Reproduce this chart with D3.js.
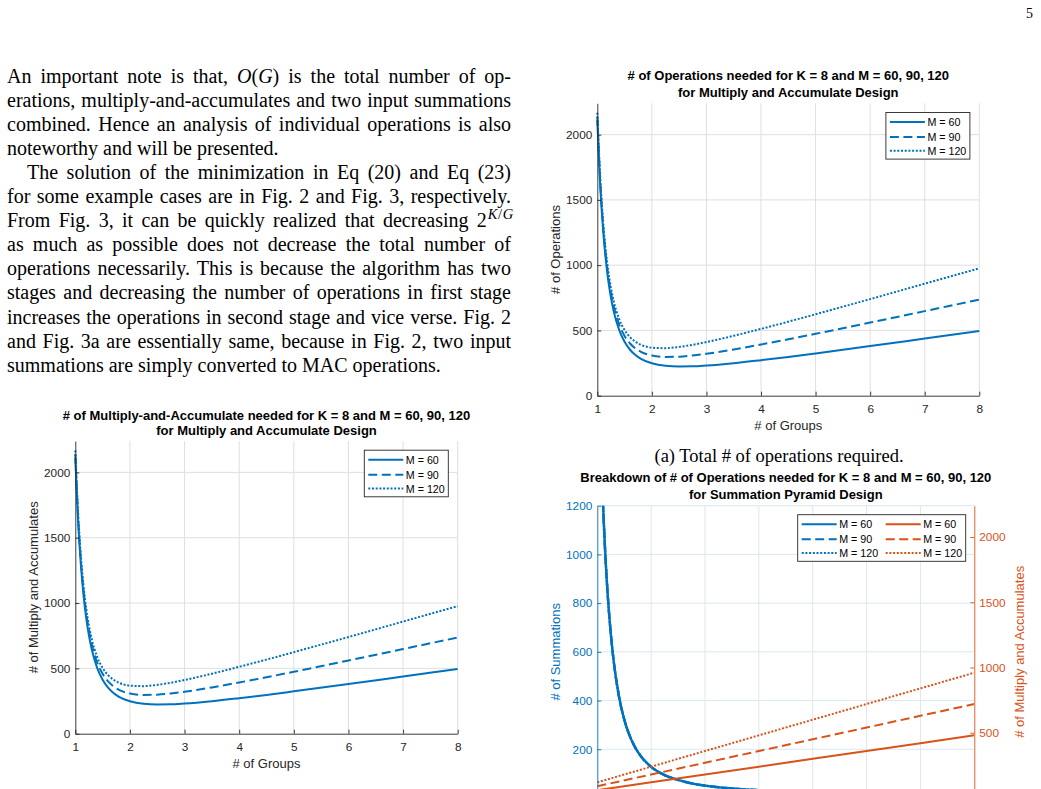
<!DOCTYPE html>
<html>
<head>
<meta charset="utf-8">
<title>Fig. 3</title>
<script src="https://cdn.jsdelivr.net/npm/d3@7"></script>
<style>
    body { margin: 0; background: #fff; overflow: hidden; }
    svg { display: block; }
</style>
</head>
<body>
<script>
    // # of groups G (x values shared by the curves)
    var groups = [1, 1.05, 1.1, 1.15, 1.2, 1.25, 1.3, 1.4, 1.5, 1.6, 1.7, 1.8, 2, 2.25, 2.5, 2.75, 3, 3.5, 4, 4.5, 5, 6, 7, 8];
    // total # of operations, MAC design (also the MAC count, fig. 2)
    var opsM60 = [2108, 1636, 1303, 1063, 885, 751, 648, 504, 413, 352, 311, 282, 248, 229, 224, 225, 231, 249, 272, 297, 324, 380, 438, 496];
    var opsM90 = [2138, 1668, 1336, 1098, 921, 789, 687, 546, 458, 400, 362, 336, 308, 297, 299, 308, 321, 354, 392, 432, 474, 560, 648, 736];
    var opsM120 = [2168, 1699, 1369, 1132, 957, 826, 726, 588, 503, 448, 413, 390, 368, 364, 374, 390, 411, 459, 512, 567, 624, 740, 858, 976];
    // summation pyramid design: summations (same for every M) and MACs
    var summations = [2048, 1573, 1237, 994, 813, 676, 570, 420, 323, 256, 209, 174, 128, 94, 74, 60, 51, 39, 32, 27, 24, 20, 18, 16];
    var pyrGroups = [1, 2, 3, 4, 5, 6, 7, 8];
    var pyrMacM60 = [60, 120, 180, 240, 300, 360, 420, 480];
    var pyrMacM90 = [90, 180, 270, 360, 450, 540, 630, 720];
    var pyrMacM120 = [120, 240, 360, 480, 600, 720, 840, 960];

    var legendLabels = ["M = 60", "M = 90", "M = 120"];
    var xTicks = [1, 2, 3, 4, 5, 6, 7, 8];
    var opsTicks = [0, 500, 1000, 1500, 2000];
    var sumTicks = [200, 400, 600, 800, 1000, 1200];
    var macTicks = [500, 1000, 1500, 2000];
    var yTop = 2240;

    var blue = "#0072BD", orange = "#D95319", axisColor = "#262626";
    var dashes = [null, "9,4.5", "2,1.7"];
    var sans = "'Liberation Sans', Arial, Helvetica, sans-serif";
    var serif = "'Liberation Serif', 'Times New Roman', serif";
    var fmt = d3.format("d");

    var svg = d3.select("body").append("svg")
        .attr("width", 1041)
        .attr("height", 789)
        .attr("font-family", sans);

    // ---------- page text ----------
    svg.append("text").attr("x", 1026).attr("y", 18.3)
        .attr("font-family", serif).attr("font-size", 14).text("5");

    var bodyLines = [
        [["An important note is that, "], ["O", "i"], ["("], ["G", "i"], [") is the total number of op-"]],
        [["erations, multiply-and-accumulates and two input summations"]],
        [["combined. Hence an analysis of individual operations is also"]],
        [["noteworthy and will be presented."]],
        [["The solution of the minimization in Eq (20) and Eq (23)"]],
        [["for some example cases are in Fig. 2 and Fig. 3, respectively."]],
        [["From Fig. 3, it can be quickly realized that decreasing 2"], ["K", "is"], ["/", "s"], ["G", "is"]],
        [["as much as possible does not decrease the total number of"]],
        [["operations necessarily. This is because the algorithm has two"]],
        [["stages and decreasing the number of operations in first stage"]],
        [["increases the operations in second stage and vice verse. Fig. 2"]],
        [["and Fig. 3a are essentially same, because in Fig. 2, two input"]],
        [["summations are simply converted to MAC operations."]]
    ];
    var lastLines = [3, 12];

    bodyLines.forEach(function (segs, i) {
        var x0 = (i == 4) ? 27 : 7;
        var t = svg.append("text")
            .attr("x", x0)
            .attr("y", 83 + 24.05 * i)
            .attr("font-family", serif)
            .attr("font-size", 20)
            .attr("fill", "#000")
            .style("white-space", "pre");
        var raised = false;
        segs.forEach(function (s) {
            var ts = t.append("tspan").text(s[0]);
            var f = s[1] || "";
            if (f.indexOf("i") >= 0) ts.attr("font-style", "italic");
            if (f.indexOf("s") >= 0) {
                ts.attr("font-size", 14.5);
                if (!raised) { ts.attr("dy", -8).attr("dx", 1); raised = true; }
                else ts.attr("dx", 0.6);
            }
        });
        if (lastLines.indexOf(i) < 0) {
            var node = t.node();
            var natural = node.getComputedTextLength();
            var spaces = (node.textContent.match(/ /g) || []).length;
            t.attr("word-spacing", (511 - x0 - natural) / spaces);
        }
    });

    svg.append("text").attr("x", 779).attr("y", 461.5)
        .attr("text-anchor", "middle")
        .attr("font-family", serif).attr("font-size", 18.5)
        .text("(a) Total # of operations required.");

    // ---------- helpers ----------
    function title(lines, cx, ys) {
        lines.forEach(function (t, i) {
            svg.append("text")
                .attr("x", cx).attr("y", ys[i])
                .attr("text-anchor", "middle")
                .attr("dominant-baseline", "central")
                .attr("font-weight", "bold")
                .attr("font-size", 13)
                .attr("fill", "#000")
                .text(t);
        });
    }

    function axisLabel(text, x, y, rotate, color) {
        svg.append("text")
            .attr("transform", "translate(" + x + "," + y + ")" + (rotate ? " rotate(-90)" : ""))
            .attr("text-anchor", "middle")
            .attr("dominant-baseline", "central")
            .attr("font-size", 13)
            .attr("fill", color)
            .text(text);
    }

    function styleAxis(g, color) {
        g.attr("font-family", null).attr("font-size", 11.8);
        g.select(".domain").attr("stroke", color).attr("stroke-width", 0.9);
        g.selectAll(".tick line").attr("stroke", color).attr("stroke-width", 0.9);
        g.selectAll(".tick text").attr("fill", color);
    }

    // cols: [{color, dx}] ; one line sample + label per series
    function legend(x0, y0, w, cols) {
        var rows = [9.5, 24.5, 38.3];
        svg.append("rect")
            .attr("x", x0).attr("y", y0)
            .attr("width", w).attr("height", 46.6)
            .attr("fill", "#fff")
            .attr("stroke", axisColor)
            .attr("stroke-width", 0.9);
        cols.forEach(function (c) {
            legendLabels.forEach(function (lab, i) {
                svg.append("line")
                    .attr("x1", x0 + c.dx).attr("x2", x0 + c.dx + 35)
                    .attr("y1", y0 + rows[i]).attr("y2", y0 + rows[i])
                    .attr("stroke", c.color)
                    .attr("stroke-width", 2)
                    .attr("stroke-dasharray", dashes[i]);
                svg.append("text")
                    .attr("x", x0 + c.dx + 37.5)
                    .attr("y", y0 + rows[i])
                    .attr("dominant-baseline", "central")
                    .attr("font-size", 10.7)
                    .attr("fill", "#000")
                    .text(lab);
            });
        });
    }

    // ---------- MAC design charts ----------
    function opsChart(box, titleLines, yLabel) {
        var x = d3.scaleLinear().domain([1, 8]).range([box.left, box.right]);
        var y = d3.scaleLinear().domain([0, yTop]).range([box.bottom, box.top]);
        var g = svg.append("g");

        g.selectAll(".vgrid").data(xTicks.slice(1)).enter().append("line")
            .attr("x1", x).attr("x2", x)
            .attr("y1", box.bottom).attr("y2", box.top)
            .attr("stroke", "#dfdfdf");
        g.selectAll(".hgrid").data(opsTicks.slice(1)).enter().append("line")
            .attr("x1", box.left).attr("x2", box.right)
            .attr("y1", y).attr("y2", y)
            .attr("stroke", "#dfdfdf");

        var line = d3.line()
            .x(function (d, i) { return x(groups[i]); })
            .y(function (d) { return y(d); })
            .curve(d3.curveMonotoneX);
        [opsM60, opsM90, opsM120].forEach(function (s, i) {
            g.append("path")
                .attr("d", line(s))
                .attr("fill", "none")
                .attr("stroke", blue)
                .attr("stroke-width", 2)
                .attr("stroke-dasharray", dashes[i]);
        });

        var xa = g.append("g")
            .attr("transform", "translate(0," + box.bottom + ")")
            .call(d3.axisBottom(x).tickValues(xTicks).tickFormat(fmt)
                .tickSizeInner(-4).tickSizeOuter(0).tickPadding(9));
        styleAxis(xa, axisColor);
        var ya = g.append("g")
            .attr("transform", "translate(" + box.left + ",0)")
            .call(d3.axisLeft(y).tickValues(opsTicks).tickFormat(fmt)
                .tickSizeInner(-4).tickSizeOuter(0).tickPadding(5));
        styleAxis(ya, axisColor);

        var cx = (box.left + box.right) / 2;
        title(titleLines, cx, box.titleY);
        axisLabel("# of Groups", cx, box.bottom + 30, false, axisColor);
        axisLabel(yLabel, box.yLabelX, (box.top + box.bottom) / 2, true, axisColor);
        legend(box.right - 93.4, box.top + 9.2, 84, [{ color: blue, dx: 4 }]);
    }

    opsChart({ left: 597.3, right: 979.3, top: 103.3, bottom: 395.7, titleY: [75.7, 92.7], yLabelX: 555 },
        ["# of Operations needed for K = 8 and M = 60, 90, 120", "for Multiply and Accumulate Design"],
        "# of Operations");

    opsChart({ left: 75.3, right: 457.7, top: 441, bottom: 733.7, titleY: [415, 430.7], yLabelX: 33.3 },
        ["# of Multiply-and-Accumulate needed for K = 8 and M = 60, 90, 120", "for Multiply and Accumulate Design"],
        "# of Multiply and Accumulates");

    // ---------- summation pyramid chart (runs past the page bottom) ----------
    var boxC = { left: 597.3, right: 974.3, top: 505.7, bottom: 798 };
    var xC = d3.scaleLinear().domain([1, 8]).range([boxC.left, boxC.right]);
    var ySum = d3.scaleLinear().domain([0, 1200]).range([boxC.bottom, boxC.top]);
    var yMac = d3.scaleLinear().domain([0, yTop]).range([boxC.bottom, boxC.top]);

    svg.append("clipPath").attr("id", "clipC")
        .append("rect")
        .attr("x", boxC.left).attr("y", boxC.top)
        .attr("width", boxC.right - boxC.left).attr("height", boxC.bottom - boxC.top);

    var gc = svg.append("g");
    gc.selectAll(".vgrid").data(xTicks.slice(1, 7)).enter().append("line")
        .attr("x1", xC).attr("x2", xC)
        .attr("y1", boxC.bottom).attr("y2", boxC.top)
        .attr("stroke", "#dfe6ed");
    gc.selectAll(".hgrid").data(sumTicks).enter().append("line")
        .attr("x1", boxC.left).attr("x2", boxC.right)
        .attr("y1", ySum).attr("y2", ySum)
        .attr("stroke", "#dbe7f1");

    var plotC = gc.append("g").attr("clip-path", "url(#clipC)");
    var sumLine = d3.line()
        .x(function (d, i) { return xC(groups[i]); })
        .y(function (d) { return ySum(d); })
        .curve(d3.curveMonotoneX);
    var macLine = d3.line()
        .x(function (d, i) { return xC(pyrGroups[i]); })
        .y(function (d) { return yMac(d); });
    [0, 1, 2].forEach(function (i) {
        plotC.append("path")
            .attr("d", sumLine(summations))
            .attr("fill", "none")
            .attr("stroke", blue)
            .attr("stroke-width", 2.4)
            .attr("stroke-dasharray", dashes[i]);
    });
    [pyrMacM60, pyrMacM90, pyrMacM120].forEach(function (s, i) {
        plotC.append("path")
            .attr("d", macLine(s))
            .attr("fill", "none")
            .attr("stroke", orange)
            .attr("stroke-width", 2)
            .attr("stroke-dasharray", dashes[i]);
    });

    // x axis sits below the page edge, its labels are not shown
    var xaC = gc.append("g")
        .attr("transform", "translate(0," + boxC.bottom + ")")
        .call(d3.axisBottom(xC).tickValues(xTicks).tickFormat("")
            .tickSizeInner(-4).tickSizeOuter(0));
    styleAxis(xaC, axisColor);
    var yaL = gc.append("g")
        .attr("transform", "translate(" + boxC.left + ",0)")
        .call(d3.axisLeft(ySum).tickValues(sumTicks).tickFormat(fmt)
            .tickSizeInner(-4).tickSizeOuter(0).tickPadding(5));
    styleAxis(yaL, blue);
    var yaR = gc.append("g")
        .attr("transform", "translate(" + boxC.right + ",0)")
        .call(d3.axisRight(yMac).tickValues(macTicks).tickFormat(fmt)
            .tickSizeInner(-4).tickSizeOuter(0).tickPadding(5));
    styleAxis(yaR, orange);

    title(["Breakdown of # of Operations needed for K = 8 and M = 60, 90, 120", "for Summation Pyramid Design"],
        (boxC.left + boxC.right) / 2, [477.3, 494.3]);
    axisLabel("# of Summations", 555, (boxC.top + boxC.bottom) / 2, true, blue);
    axisLabel("# of Multiply and Accumulates", 1019, (boxC.top + boxC.bottom) / 2, true, orange);
    legend(797.7, 514.7, 168, [{ color: blue, dx: 4 }, { color: orange, dx: 88 }]);
</script>
</body>
</html>
